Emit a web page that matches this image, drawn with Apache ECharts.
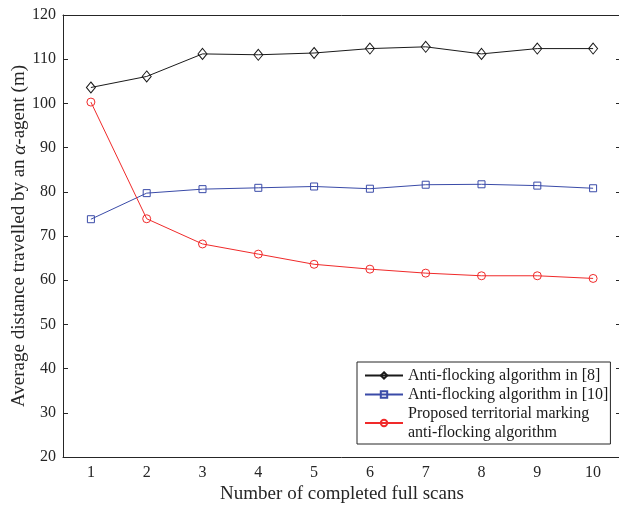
<!DOCTYPE html>
<html>
<head>
<meta charset="utf-8">
<script src="https://cdn.jsdelivr.net/npm/echarts@6/dist/echarts.min.js"></script>
<style>
html,body{margin:0;padding:0;background:#fff;}
#chart{width:619px;height:506px;}
</style>
</head>
<body>
<div id="chart"></div>
<script>
const categories = ['1','2','3','4','5','6','7','8','9','10'];
const seriesNames = ['Anti-flocking algorithm in [8]', 'Anti-flocking algorithm in [10]', 'Proposed territorial marking\nanti-flocking algorithm'];
const algo8 = [103.6, 106.1, 111.2, 111.0, 111.4, 112.4, 112.8, 111.2, 112.4, 112.4];
const algo10 = [73.8, 79.7, 80.6, 80.9, 81.2, 80.7, 81.6, 81.7, 81.4, 80.8];
const proposed = [100.3, 73.9, 68.2, 65.9, 63.6, 62.5, 61.6, 61.0, 61.0, 60.4];
const yTicks = {min: 20, max: 120, interval: 10};

const FONT = '"Liberation Serif", "Times New Roman", serif';
const AX = '#262626';

const chart = echarts.init(document.getElementById('chart'), null, {renderer: 'canvas'});

function lineSeries(name, data, color, symbol, size) {
  return {
    name: name, type: 'line', data: data,
    xAxisIndex: 0, yAxisIndex: 0,
    symbol: symbol, symbolSize: size, showAllSymbol: true,
    lineStyle: {color: color, width: 1},
    itemStyle: {color: 'rgba(0,0,0,0)', borderColor: color, borderWidth: 1},
    emphasis: {disabled: true},
    animation: false
  };
}

chart.setOption({
  backgroundColor: '#fff',
  animation: false,
  grid: {left: 63, top: 15, width: 558, height: 442, containLabel: false, outerBoundsMode: 'none'},
  legend: {
    orient: 'vertical',
    left: 357, top: 362,
    padding: [4, 2, 2, 7],
    itemGap: 0,
    itemWidth: 38, itemHeight: 8,
    borderColor: AX, borderWidth: 1,
    backgroundColor: '#fff',
    textStyle: {fontFamily: FONT, fontSize: 16, lineHeight: 19, color: '#1a1a1a'},
    data: seriesNames
  },
  xAxis: [{
    type: 'category', data: categories, boundaryGap: true, position: 'bottom',
    name: 'Number of completed full scans', nameLocation: 'middle', nameGap: 28,
    nameMoveOverlap: false,
    nameTextStyle: {fontFamily: FONT, fontSize: 19, color: AX},
    axisLine: {lineStyle: {color: AX, width: 1}},
    axisTick: {inside: true, length: 5, alignWithLabel: true, lineStyle: {color: AX}},
    axisLabel: {fontFamily: FONT, fontSize: 16, color: AX, margin: 8},
    splitLine: {show: false}
  }, {
    type: 'category', data: categories, boundaryGap: true, position: 'top',
    axisLine: {lineStyle: {color: AX, width: 1}},
    axisTick: {inside: true, length: 5, alignWithLabel: true, lineStyle: {color: AX}},
    axisLabel: {show: false},
    splitLine: {show: false}
  }],
  yAxis: [{
    type: 'value', min: yTicks.min, max: yTicks.max, interval: yTicks.interval, position: 'left',
    name: 'Average distance travelled by an {i|α}-agent (m)', nameLocation: 'middle', nameGap: 34,
    nameMoveOverlap: false,
    nameTextStyle: {fontFamily: FONT, fontSize: 19, color: AX,
      rich: {i: {fontFamily: FONT, fontSize: 19, fontStyle: 'italic', color: AX}}},
    axisLine: {show: true, lineStyle: {color: AX, width: 1}},
    axisTick: {show: true, inside: true, length: 5, lineStyle: {color: AX}},
    axisLabel: {fontFamily: FONT, fontSize: 16, color: AX, margin: 7},
    splitLine: {show: false}
  }, {
    type: 'value', min: yTicks.min, max: yTicks.max, interval: yTicks.interval, position: 'right',
    axisLine: {show: true, lineStyle: {color: AX, width: 1}},
    axisTick: {show: true, inside: true, length: 5, lineStyle: {color: AX}},
    axisLabel: {show: false},
    splitLine: {show: false}
  }],
  series: [
    lineSeries(seriesNames[0], algo8, '#1a1a1a', 'diamond', [9, 11]),
    lineSeries(seriesNames[1], algo10, '#3a4ba8', 'rect', 7),
    lineSeries(seriesNames[2], proposed, '#f02a2a', 'circle', 8)
  ]
});
</script>
</body>
</html>
